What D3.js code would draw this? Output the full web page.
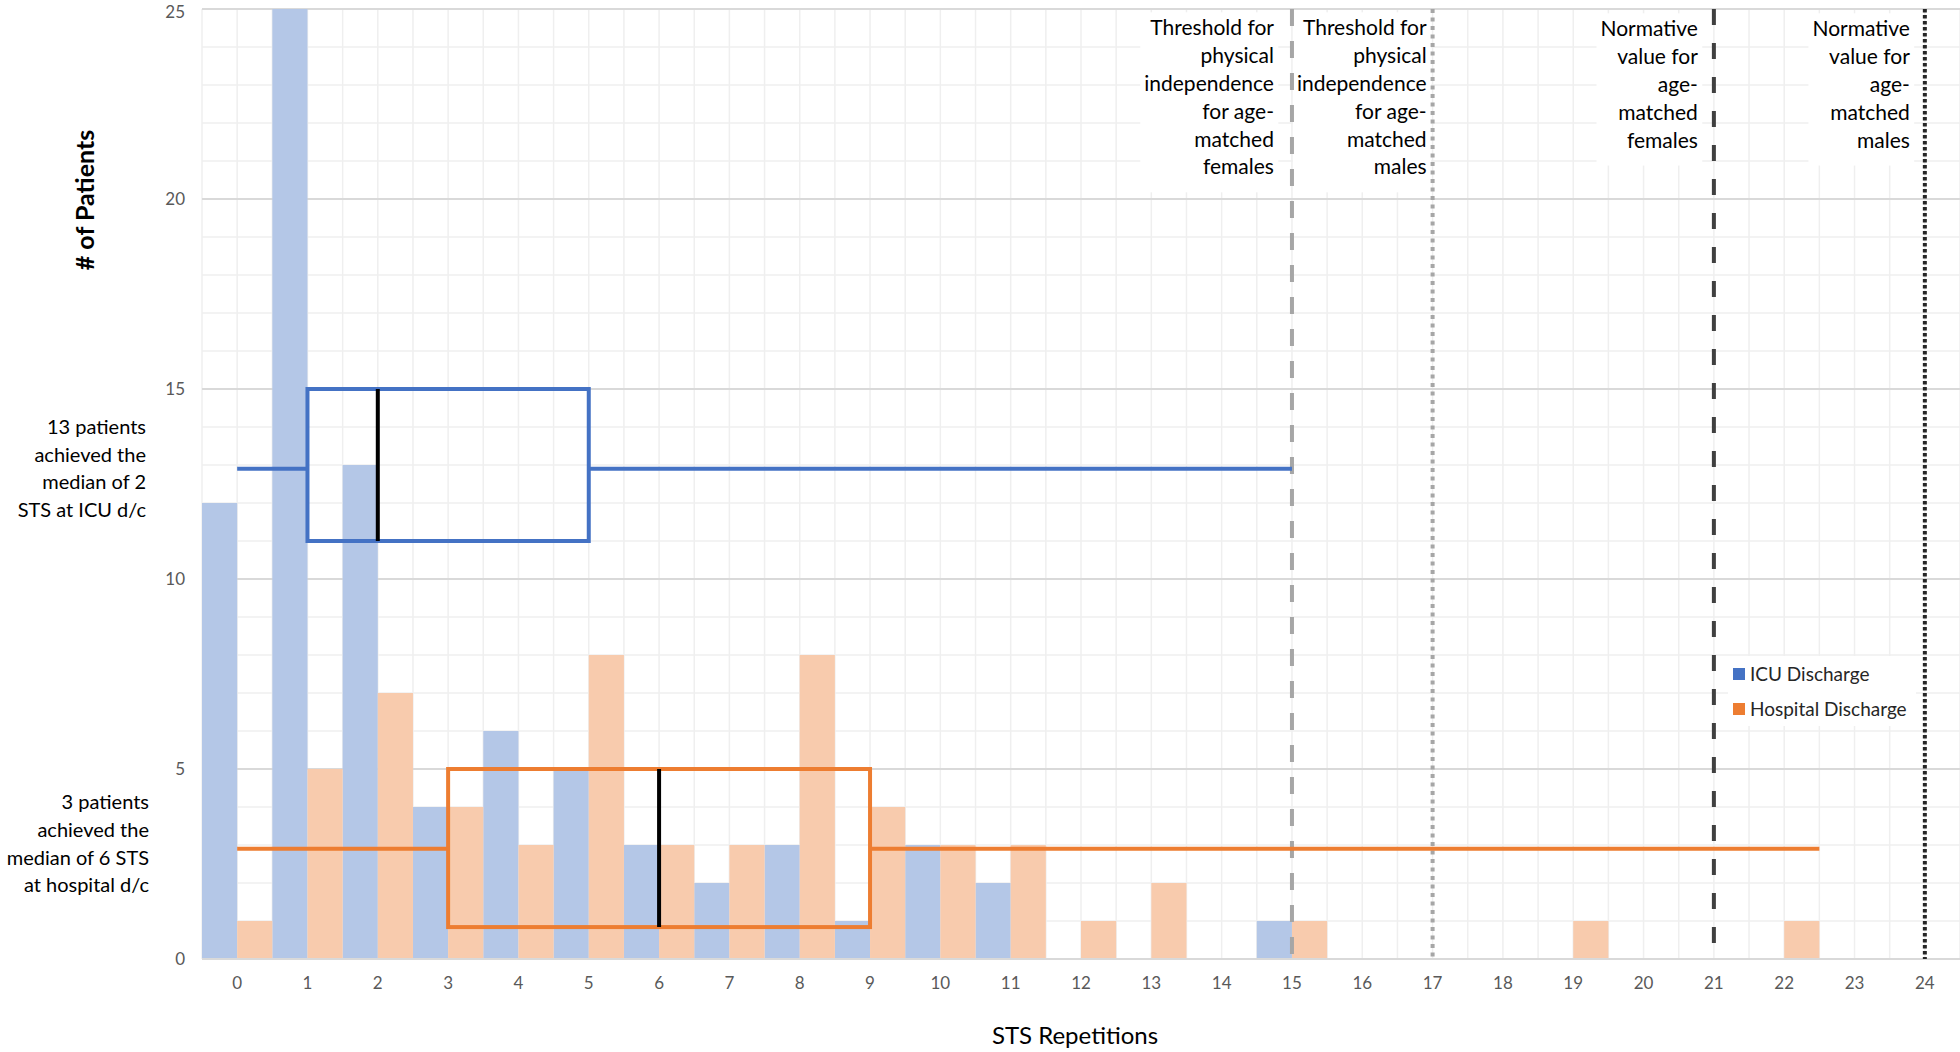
<!DOCTYPE html>
<html>
<head>
<meta charset="utf-8">
<script src="https://cdn.jsdelivr.net/npm/d3@7"></script>
<style>
  html, body { margin: 0; padding: 0; background: #fff; }
  svg { display: block; font-family: Lato, "Open Sans", sans-serif; }
</style>
</head>
<body>
<svg id="chart" width="1960" height="1052"></svg>
<script>
// ---------------- DATA ----------------
const categories = [0,1,2,3,4,5,6,7,8,9,10,11,12,13,14,15,16,17,18,19,20,21,22,23,24];
const icuCounts      = [12,25,13,4,6,5,3,2,3,1,3,2,0,0,0,1,0,0,0,0,0,0,0,0,0];
const hospitalCounts = [1,5,7,4,3,8,3,3,8,4,3,3,1,2,0,1,0,0,0,1,0,0,1,0,0];
const seriesNames = ["ICU Discharge", "Hospital Discharge"];
const yTicks = [0,5,10,15,20,25];

// box plots: [whiskerStart, q1, median, q3, whiskerEnd, boxLow(y), boxHigh(y), whiskerY]
const icuBox      = [0, 1, 2, 5, 15,   11,   15, 12.9];
const hospitalBox = [0, 3, 6, 9, 22.5, 0.84, 5,  2.9];

// reference lines (STS repetitions)
const refLineValues = [15, 17, 21, 24];
const refLineLabels = [
  ["Threshold for","physical","independence","for age-","matched","females"],
  ["Threshold for","physical","independence","for age-","matched","males"],
  ["Normative","value for","age-","matched","females"],
  ["Normative","value for","age-","matched","males"]
];
const icuNote = ["13 patients","achieved the","median of 2","STS at ICU d/c"];
const hospitalNote = ["3 patients","achieved the","median of 6 STS","at hospital d/c"];

// ---------------- LAYOUT ----------------
const svg = d3.select("#chart");
const plot = {left: 202, right: 1960, top: 9, bottom: 959};

const xBand = d3.scaleBand().domain(categories).range([plot.left, plot.right]).paddingInner(0).paddingOuter(0);
const xSub = d3.scaleBand().domain(seriesNames).range([0, xBand.bandwidth()]).padding(0);
const xLin = d3.scaleLinear().domain([-0.5, 24.5]).range([plot.left, plot.right]);
const y = d3.scaleLinear().domain([0, 25]).range([plot.bottom, plot.top]);

const colors = {
  icuBar: "#B4C7E7", hospBar: "#F8CBAD",
  icuLine: "#4472C4", hospLine: "#ED7D31"
};

// ---------------- GRIDLINES ----------------
const grid = svg.append("g");
const vGrid = d3.range(-0.5, 24.51, 0.5);
grid.selectAll("line.v").data(vGrid).join("line")
  .attr("x1", d => xLin(d)).attr("x2", d => xLin(d))
  .attr("y1", plot.top).attr("y2", plot.bottom)
  .attr("stroke", "#EFEFEF").attr("stroke-width", 1.5);
grid.selectAll("line.hm").data(d3.range(0, 26, 1)).join("line")
  .attr("x1", plot.left).attr("x2", plot.right)
  .attr("y1", d => y(d)).attr("y2", d => y(d))
  .attr("stroke", d => d % 5 === 0 ? "#D9D9D9" : "#EFEFEF")
  .attr("stroke-width", d => d % 5 === 0 ? 2 : 1.5);

// ---------------- BARS ----------------
const bars = svg.append("g");
const rows = categories.map((c, i) => ({c, icu: icuCounts[i], hosp: hospitalCounts[i]}));
bars.selectAll("rect.icu").data(rows).join("rect")
  .attr("x", d => xBand(d.c) + xSub(seriesNames[0]))
  .attr("width", xSub.bandwidth())
  .attr("y", d => y(d.icu)).attr("height", d => y(0) - y(d.icu))
  .attr("fill", colors.icuBar);
bars.selectAll("rect.hosp").data(rows).join("rect")
  .attr("x", d => xBand(d.c) + xSub(seriesNames[1]))
  .attr("width", xSub.bandwidth())
  .attr("y", d => y(d.hosp)).attr("height", d => y(0) - y(d.hosp))
  .attr("fill", colors.hospBar);

svg.append("line").attr("x1", plot.left).attr("x2", plot.right)
  .attr("y1", y(0)).attr("y2", y(0)).attr("stroke", "#D9D9D9").attr("stroke-width", 2);

// ---------------- AXES LABELS ----------------
svg.append("g").selectAll("text").data(yTicks).join("text")
  .attr("x", 185).attr("y", d => Math.max(y(d), 12)).attr("dy", "0.35em")
  .attr("text-anchor", "end").attr("font-size", 17).attr("fill", "#595959")
  .text(d => d);
svg.append("g").selectAll("text").data(categories).join("text")
  .attr("x", d => xBand(d) + xBand.bandwidth() / 2).attr("y", 983).attr("dy", "0.35em")
  .attr("text-anchor", "middle").attr("font-size", 17).attr("fill", "#595959")
  .text(d => d);

svg.append("text").attr("x", 1075).attr("y", 1036).attr("dy", "0.35em")
  .attr("text-anchor", "middle").attr("font-size", 24).attr("fill", "#000")
  .text("STS Repetitions");
svg.append("text").attr("transform", "translate(85,200) rotate(-90)").attr("dy", "0.35em")
  .attr("text-anchor", "middle").attr("font-size", 25).attr("font-weight", "bold").attr("fill", "#000")
  .text("# of Patients");

// ---------------- TEXT BOXES (white fill) ----------------
function textBlock(g, lines, xRight, yFirst, lh, size) {
  const t = g.append("text").attr("text-anchor", "end").attr("font-size", size).attr("fill", "#000");
  t.selectAll("tspan").data(lines).join("tspan")
    .attr("x", xRight).attr("y", (d, i) => yFirst + i * lh).attr("dy", "0.35em").text(d => d);
  return t;
}
const topTexts = svg.append("g");
const topOffsets = [18, 6, 16, 15];
const topFirstY = [28, 28, 29, 29];
refLineValues.forEach((v, i) => {
  const bg = topTexts.append("rect").attr("fill", "#fff");
  const t = textBlock(topTexts, refLineLabels[i], xLin(v) - topOffsets[i], topFirstY[i], 27.8, 21);
  const bb = t.node().getBBox();
  bg.attr("x", bb.x - 4).attr("y", bb.y - 2).attr("width", bb.width + 8).attr("height", bb.height + 16);
});

// ---------------- REFERENCE LINES ----------------
const refStyles = [
  {stroke: "#A6A6A6", dash: "17,15"},
  {stroke: "#A6A6A6", dash: "4,4.5"},
  {stroke: "#404040", dash: "16,18"},
  {stroke: "#262626", dash: "3.5,2.5"}
];
svg.append("g").selectAll("line").data(refLineValues).join("line")
  .attr("x1", d => xLin(d)).attr("x2", d => xLin(d))
  .attr("y1", plot.top).attr("y2", plot.bottom)
  .attr("stroke", (d, i) => refStyles[i].stroke)
  .attr("stroke-width", 4)
  .attr("stroke-dasharray", (d, i) => refStyles[i].dash);

// ---------------- BOX PLOTS ----------------
function boxPlot(b, color) {
  const g = svg.append("g").attr("fill", "none").attr("stroke-width", 4);
  const [w0, q1, med, q3, w1, lo, hi, wy] = b;
  g.append("line").attr("x1", xLin(w0)).attr("x2", xLin(q1)).attr("y1", y(wy)).attr("y2", y(wy)).attr("stroke", color);
  g.append("line").attr("x1", xLin(q3)).attr("x2", xLin(w1)).attr("y1", y(wy)).attr("y2", y(wy)).attr("stroke", color);
  g.append("rect").attr("x", xLin(q1)).attr("y", y(hi)).attr("width", xLin(q3) - xLin(q1))
    .attr("height", y(lo) - y(hi)).attr("stroke", color);
  g.append("line").attr("x1", xLin(med)).attr("x2", xLin(med)).attr("y1", y(lo)).attr("y2", y(hi)).attr("stroke", "#000");
}
boxPlot(icuBox, colors.icuLine);
boxPlot(hospitalBox, colors.hospLine);

// ---------------- LEFT NOTES ----------------
textBlock(svg.append("g"), icuNote, 146, 427, 27.5, 20);
textBlock(svg.append("g"), hospitalNote, 149, 802, 27.8, 20);

// ---------------- LEGEND ----------------
const legend = svg.append("g");
legend.append("rect").attr("x", 1728).attr("y", 656).attr("width", 188).attr("height", 70).attr("fill", "#fff");
const legendColors = [colors.icuLine, colors.hospLine];
const legendY = [674, 709];
seriesNames.forEach((n, i) => {
  legend.append("rect").attr("x", 1733).attr("y", legendY[i] - 6).attr("width", 12).attr("height", 12).attr("fill", legendColors[i]);
  legend.append("text").attr("x", 1750).attr("y", legendY[i]).attr("dy", "0.35em")
    .attr("font-size", 19).attr("fill", "#262626").text(n);
});
</script>
</body>
</html>
